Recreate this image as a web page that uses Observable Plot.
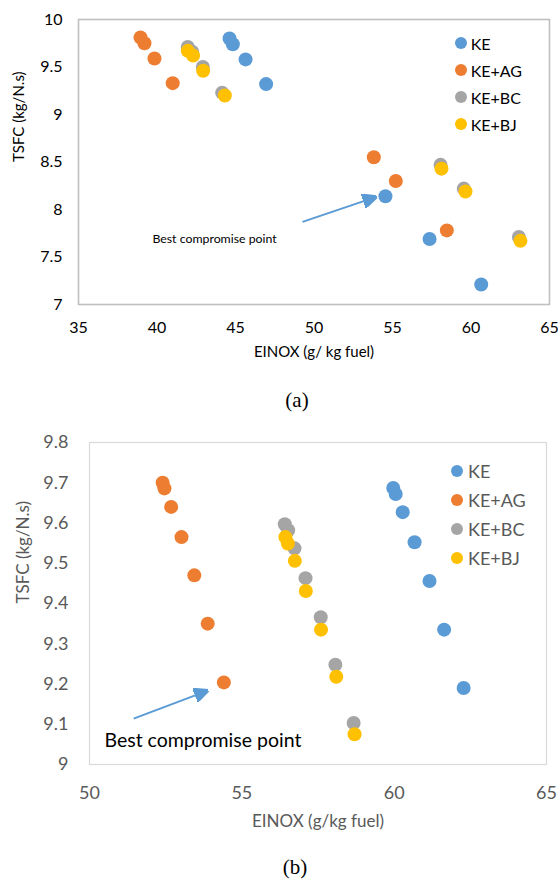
<!DOCTYPE html>
<html><head><meta charset="utf-8">
<script src="https://cdn.jsdelivr.net/npm/d3@7"></script>
<script src="https://cdn.jsdelivr.net/npm/@observablehq/plot@0.6"></script>
<style>
body{margin:0;background:#fff;}
#page{position:relative;width:558px;height:879px;overflow:hidden;font-family:Lato,"Open Sans",sans-serif;}
.chart{position:absolute;left:0;}
.legend{position:absolute;}
.legend .item{display:flex;align-items:center;position:absolute;left:0;height:20px;white-space:nowrap;}
.legend .sw{border-radius:50%;display:inline-block;flex:none;}
.caption{position:absolute;font-family:"Liberation Serif","Times New Roman",serif;font-size:21px;transform:translate(-50%,-50%);color:#000;}
</style></head>
<body><div id="page"></div>
<script>
// ---------- shared ----------
const series = ["KE", "KE+AG", "KE+BC", "KE+BJ"];
const colors = ["#5B9BD5", "#ED7D31", "#A5A5A5", "#FFC000"];
const annotationText = "Best compromise point";

// ---------- chart (a) ----------
const aKE_x   = [44.62, 44.83, 45.64, 46.95, 54.55, 57.36, 60.65];
const aKE_y   = [9.80, 9.74, 9.58, 9.32, 8.14, 7.69, 7.21];
const aAG_x   = [38.95, 39.20, 39.84, 41.00, 53.81, 55.21, 58.46];
const aAG_y   = [9.81, 9.75, 9.59, 9.33, 8.55, 8.30, 7.78];
const aBC_x   = [41.96, 42.24, 42.92, 44.15, 58.06, 59.54, 63.05];
const aBC_y   = [9.71, 9.66, 9.50, 9.23, 8.47, 8.22, 7.71];
const aBJ_x   = [41.96, 42.30, 42.94, 44.32, 58.12, 59.65, 63.15];
const aBJ_y   = [9.67, 9.62, 9.46, 9.20, 8.43, 8.19, 7.67];
const aXTicks = [35, 40, 45, 50, 55, 60, 65];
const aYTicks = [7, 7.5, 8, 8.5, 9, 9.5, 10];
const aXLabel = "EINOX (g/ kg fuel)";
const aYLabel = "TSFC (kg/N.s)";
const aArrow  = {x1: 49.27, y1: 7.87, x2: 53.92, y2: 8.13};
const aNote   = {x: 39.71, y: 7.684};

// ---------- chart (b) ----------
const bKE_x   = [59.97, 60.05, 60.28, 60.67, 61.16, 61.64, 62.28];
const bKE_y   = [9.687, 9.672, 9.627, 9.552, 9.456, 9.335, 9.190];
const bAG_x   = [52.40, 52.46, 52.68, 53.02, 53.44, 53.88, 54.41];
const bAG_y   = [9.700, 9.686, 9.640, 9.565, 9.470, 9.350, 9.204];
const bBC_x   = [56.41, 56.52, 56.73, 57.09, 57.59, 58.07, 58.67];
const bBC_y   = [9.597, 9.582, 9.537, 9.463, 9.366, 9.248, 9.103];
const bBJ_x   = [56.43, 56.51, 56.74, 57.10, 57.60, 58.10, 58.70];
const bBJ_y   = [9.565, 9.549, 9.506, 9.431, 9.335, 9.218, 9.075];
const bXTicks = [50, 55, 60, 65];
const bYTicks = [9, 9.1, 9.2, 9.3, 9.4, 9.5, 9.6, 9.7, 9.8];
const bXLabel = "EINOX (g/kg fuel)";
const bYLabel = "TSFC (kg/N.s)";
const bArrow  = {x1: 51.45, y1: 9.114, x2: 53.86, y2: 9.183};
const bNote   = {x: 50.49, y: 9.060};

function table(xs, ys) {
  const rows = [];
  series.forEach((s, i) => xs[i].forEach((x, j) => rows.push({series: s, x, y: ys[i][j]})));
  return rows;
}
const aData = table([aKE_x, aAG_x, aBC_x, aBJ_x], [aKE_y, aAG_y, aBC_y, aBJ_y]);
const bData = table([bKE_x, bAG_x, bBC_x, bBJ_x], [bKE_y, bAG_y, bBC_y, bBJ_y]);

function filledArrow(color, context) {
  const doc = (context && context.document) || document;
  const ns = "http://www.w3.org/2000/svg";
  const m = doc.createElementNS(ns, "marker");
  m.setAttribute("viewBox", "0 -5 10 10");
  m.setAttribute("refX", "9");
  m.setAttribute("refY", "0");
  m.setAttribute("markerWidth", "7.2");
  m.setAttribute("markerHeight", "7.2");
  m.setAttribute("orient", "auto");
  const p = doc.createElementNS(ns, "path");
  p.setAttribute("d", "M0,-4.6L10,0L0,4.6Z");
  p.setAttribute("fill", color);
  m.appendChild(p);
  return m;
}

function makeChart(o) {
  return Plot.plot({
    width: 558, height: o.height,
    marginLeft: o.ml, marginRight: o.mr, marginTop: o.mt, marginBottom: o.mb,
    style: {fontFamily: "Lato, 'Open Sans', sans-serif", color: o.textColor, background: "#fff"},
    x: {domain: o.xDomain, label: null},
    y: {domain: o.yDomain, label: null},
    color: {domain: series, range: colors},
    marks: [
      Plot.frame({stroke: o.frameColor, strokeWidth: o.frameWidth}),
      Plot.axisX({ticks: o.xTicks, tickSize: 0, tickPadding: o.xPad, fontSize: o.tickFont, tickFormat: d => String(d), label: null}),
      Plot.axisY({ticks: o.yTicks, tickSize: 0, tickPadding: o.yPad, fontSize: o.tickFont, tickFormat: d => String(d), label: null}),
      Plot.text([o.yLabel], {frameAnchor: "left", rotate: -90, dx: -o.yTitleOff, fontSize: o.titleFont, fill: o.textColor}),
      Plot.text([o.xLabel], {frameAnchor: "bottom", dy: o.xTitleOff, fontSize: o.titleFont, fill: o.textColor}),
      Plot.dot(o.data, {x: "x", y: "y", fill: "series", r: o.r, stroke: null}),
      Plot.link([o.arrow], {x1: "x1", y1: "y1", x2: "x2", y2: "y2", stroke: "#5B9BD5", strokeWidth: 2, markerEnd: filledArrow}),
      Plot.text([annotationText], {x: () => o.note.x, y: () => o.note.y, textAnchor: "start", fontSize: o.noteFont, fill: "#000"})
    ]
  });
}

const page = document.getElementById("page");

function place(el, top) {
  el.classList.add("chart");
  el.style.top = top + "px";
  page.appendChild(el);
}

const chartA = makeChart({
  height: 380, ml: 78, mr: 9, mt: 19, mb: 76,
  xDomain: [35, 65], yDomain: [7, 10], xTicks: aXTicks, yTicks: aYTicks,
  textColor: "#000", frameColor: "#bfbfbf", frameWidth: 1.6,
  xPad: 17, yPad: 16, tickFont: 16, titleFont: 15,
  yTitleOff: 59, xTitleOff: 52, xLabel: aXLabel, yLabel: aYLabel,
  data: aData, r: 7, arrow: aArrow, note: aNote, noteFont: 12.3
});
place(chartA, 0);

const chartB = makeChart({
  height: 420, ml: 89, mr: 12, mt: 22, mb: 76,
  xDomain: [50, 65], yDomain: [9, 9.8], xTicks: bXTicks, yTicks: bYTicks,
  textColor: "#595959", frameColor: "#d9d9d9", frameWidth: 1.2,
  xPad: 22, yPad: 21, tickFont: 18, titleFont: 17,
  yTitleOff: 66, xTitleOff: 62, xLabel: bXLabel, yLabel: bYLabel,
  data: bData, r: 7, arrow: bArrow, note: bNote, noteFont: 19.5
});
place(chartB, 420);

function legend(left, top, spacing, sw, gap, fontSize, color) {
  const box = document.createElement("div");
  box.className = "legend";
  box.style.left = left + "px";
  box.style.top = top + "px";
  series.forEach((s, i) => {
    const it = document.createElement("div");
    it.className = "item";
    it.style.top = (i * spacing) + "px";
    const dot = document.createElement("span");
    dot.className = "sw";
    dot.style.width = sw + "px";
    dot.style.height = sw + "px";
    dot.style.background = colors[i];
    dot.style.marginRight = gap + "px";
    const t = document.createElement("span");
    t.textContent = s;
    t.style.fontSize = fontSize + "px";
    t.style.color = color;
    it.appendChild(dot);
    it.appendChild(t);
    box.appendChild(it);
  });
  page.appendChild(box);
}
legend(454.7, 33.3, 27, 12, 4, 16, "#000");
legend(450.5, 461, 29, 12.5, 5, 18, "#595959");

function caption(text, x, y) {
  const c = document.createElement("div");
  c.className = "caption";
  c.textContent = text;
  c.style.left = x + "px";
  c.style.top = y + "px";
  page.appendChild(c);
}
caption("(a)", 297, 400);
caption("(b)", 295, 867);
</script>
</body></html>
